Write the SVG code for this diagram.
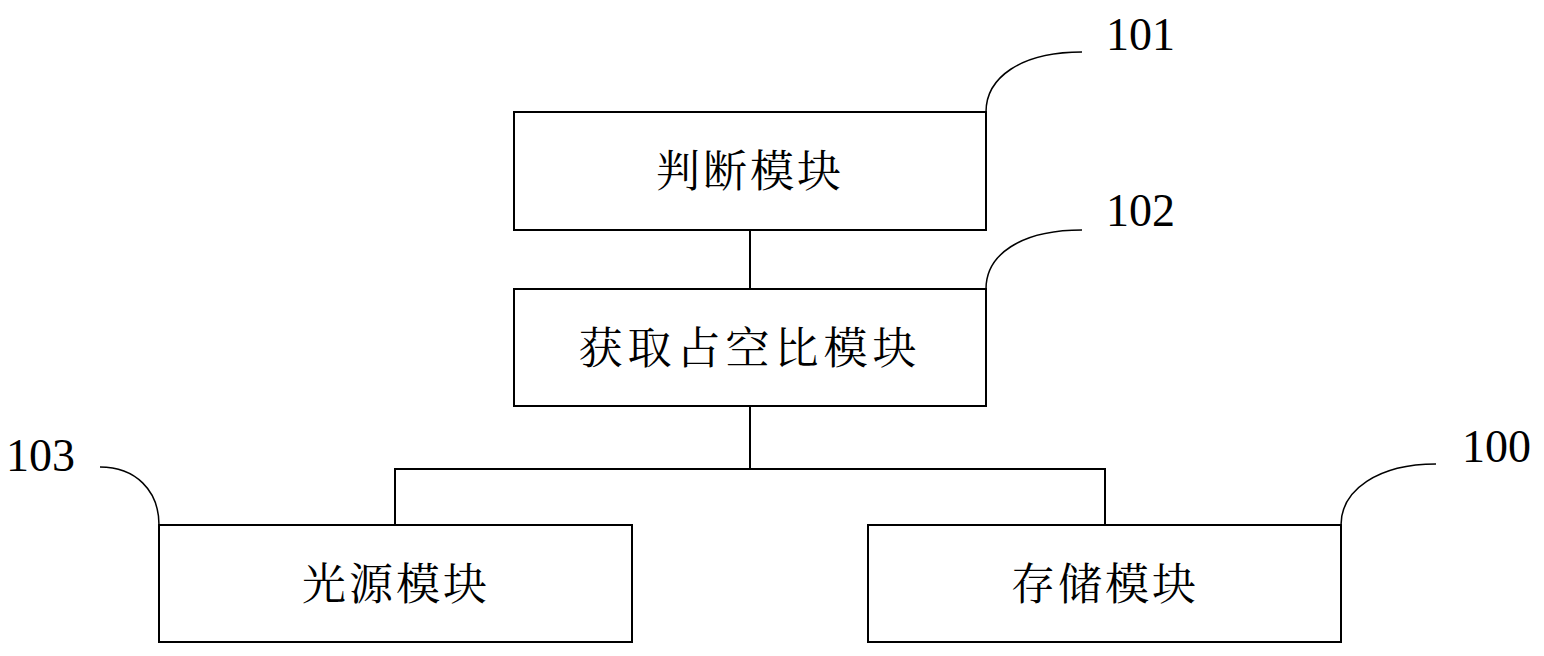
<svg xmlns="http://www.w3.org/2000/svg" width="1544" height="656" viewBox="0 0 1544 656">
<style>
.box{fill:#fff;stroke:#000;stroke-width:2}
.ln{fill:none;stroke:#000;stroke-width:2}
.lead{fill:none;stroke:#000;stroke-width:1.5}
.t{font-family:"Noto Serif CJK SC","Noto Sans CJK SC",serif;font-size:44px;fill:#000;text-anchor:middle}
.n{font-family:"Liberation Serif",serif;font-size:46px;fill:#000}
</style>
<rect width="1544" height="656" fill="#fff"/>
<g id="connectors">
<line class="ln" x1="750" y1="230" x2="750" y2="289"/>
<line class="ln" x1="750" y1="406" x2="750" y2="469"/>
<polyline class="ln" points="395,525 395,469 1105,469 1105,525"/>
</g>
<g id="n101">
<rect class="box" x="514" y="112" width="472" height="118"/>
<text class="t" x="750" y="187" letter-spacing="3">判断模块</text>
<path class="lead" d="M986,112 C986,78 1020,52 1082,52"/>
<text class="n" x="1106" y="50">101</text>
</g>
<g id="n102">
<rect class="box" x="514" y="289" width="472" height="117"/>
<text class="t" x="750" y="364" letter-spacing="5">获取占空比模块</text>
<path class="lead" d="M986,289 C986,255 1020,230 1082,230"/>
<text class="n" x="1106" y="226">102</text>
</g>
<g id="n103">
<rect class="box" x="159" y="525" width="473" height="117"/>
<text class="t" x="396" y="600" letter-spacing="3">光源模块</text>
<path class="lead" d="M100,467 C135,467 159,490 159,525"/>
<text class="n" x="6" y="471">103</text>
</g>
<g id="n100">
<rect class="box" x="868" y="525" width="473" height="117"/>
<text class="t" x="1105" y="600" letter-spacing="3">存储模块</text>
<path class="lead" d="M1341,525 C1341,490 1378,464 1436,464"/>
<text class="n" x="1462" y="462">100</text>
</g>
</svg>
